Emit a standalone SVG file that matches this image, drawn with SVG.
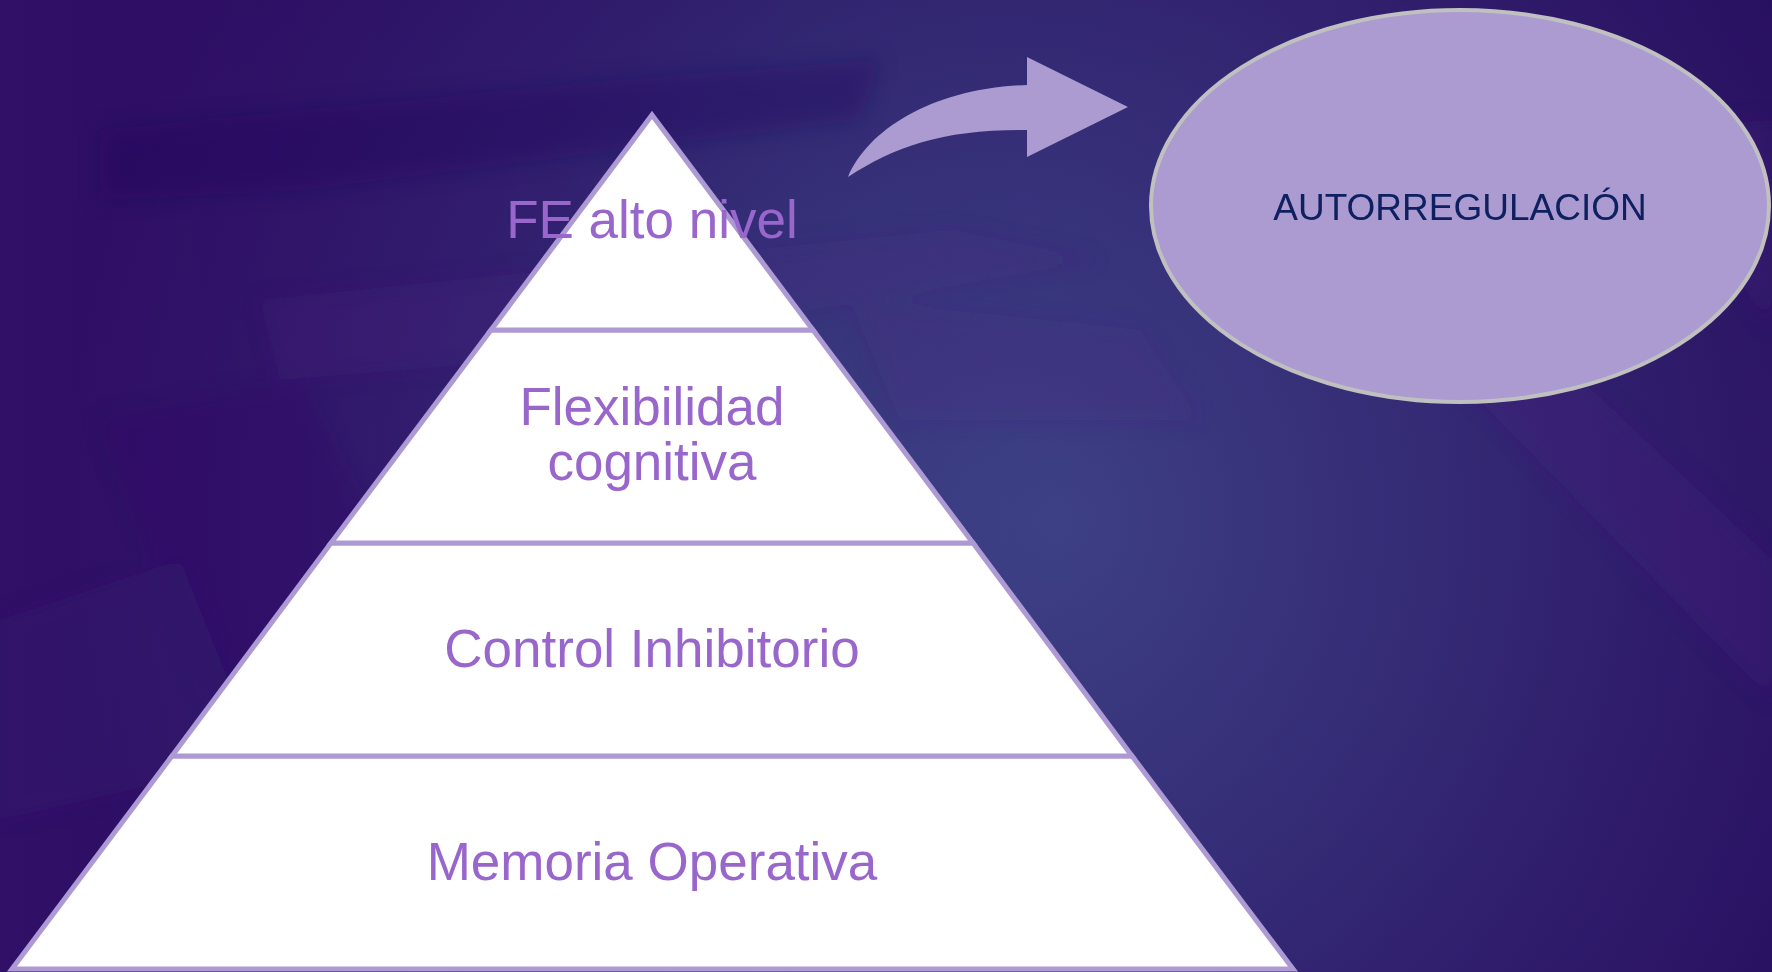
<svg xmlns="http://www.w3.org/2000/svg" width="1772" height="972" viewBox="0 0 1772 972">
<defs>
<radialGradient id="bg" cx="1060" cy="520" r="1000" gradientUnits="userSpaceOnUse">
<stop offset="0" stop-color="#3e4487"/>
<stop offset="0.35" stop-color="#36337a"/>
<stop offset="0.7" stop-color="#2e1c6a"/>
<stop offset="1" stop-color="#250b5c"/>
</radialGradient>
<linearGradient id="tint" x1="0" y1="0" x2="1" y2="0">
<stop offset="0" stop-color="#3a1470" stop-opacity="0.55"/>
<stop offset="0.45" stop-color="#3a1470" stop-opacity="0"/>
<stop offset="1" stop-color="#2a0c60" stop-opacity="0.3"/>
</linearGradient>
<filter id="soft" x="-20%" y="-20%" width="140%" height="140%"><feGaussianBlur stdDeviation="10"/></filter>
<style>
.layer{fill:#ffffff;stroke:#ad9ad4;stroke-width:5;stroke-linejoin:miter}
.lbl{font-family:"Liberation Sans",Arial,sans-serif;font-size:53px;fill:#9966cc;text-anchor:middle}
.ell{fill:#ab9bd1;stroke:#c0c0c0;stroke-width:4}
.elbl{font-family:"Liberation Sans",Arial,sans-serif;font-size:37px;fill:#0f2060;text-anchor:middle}
.arrow{fill:#ab9bd1}
</style>
</defs>
<rect width="1772" height="972" fill="url(#bg)"/>
<rect width="1772" height="972" fill="url(#tint)"/>
<g id="texture" filter="url(#soft)">
<path d="M100,130 L620,80 L880,60 L860,120 L300,190 L100,200 Z" fill="#220a58" opacity="0.3"/>
<path d="M260,300 L950,230 L1100,260 L520,360 L280,380 Z" fill="#4a2a86" opacity="0.2"/>
<path d="M1460,380 L1560,360 L1772,560 L1772,700 Z" fill="#4a2480" opacity="0.3"/>
<path d="M1640,130 L1772,120 L1772,330 Z" fill="#4a2480" opacity="0.25"/>
<path d="M100,420 L300,380 L420,620 L200,700 Z" fill="#2c1466" opacity="0.25"/>
<path d="M850,300 L1140,330 L1200,420 L900,420 Z" fill="#4a2e86" opacity="0.2"/>
<path d="M0,620 L180,560 L260,760 L0,820 Z" fill="#3e1c78" opacity="0.2"/>
</g>
<g id="connectors">
<path class="arrow" d="M848,177 C868,130 932,88 1027,85 L1027,57 L1128,107 L1027,157 L1027,130 C945,129 895,146 848,177 Z"/>
</g>
<g id="layer-memoria">
<polygon class="layer" points="172,756 1132,756 1293,969 12,969"/>
</g>
<g id="layer-control">
<polygon class="layer" points="331,543 973,543 1132,756 172,756"/>
</g>
<g id="layer-flexibilidad">
<polygon class="layer" points="491,330 813,330 973,543 331,543"/>
</g>
<g id="layer-fe">
<polygon class="layer" points="652,115 813,330 491,330"/>
</g>
<g id="labels">
<text class="lbl" x="652" y="238">FE alto nivel</text>
<text class="lbl" x="652" y="425">Flexibilidad</text>
<text class="lbl" x="652" y="480">cognitiva</text>
<text class="lbl" x="652" y="667">Control Inhibitorio</text>
<text class="lbl" x="652" y="880">Memoria Operativa</text>
</g>
<g id="autorregulacion">
<ellipse class="ell" cx="1460" cy="206" rx="309" ry="196"/>
<text class="elbl" x="1460" y="220">AUTORREGULACIÓN</text>
</g>
</svg>
